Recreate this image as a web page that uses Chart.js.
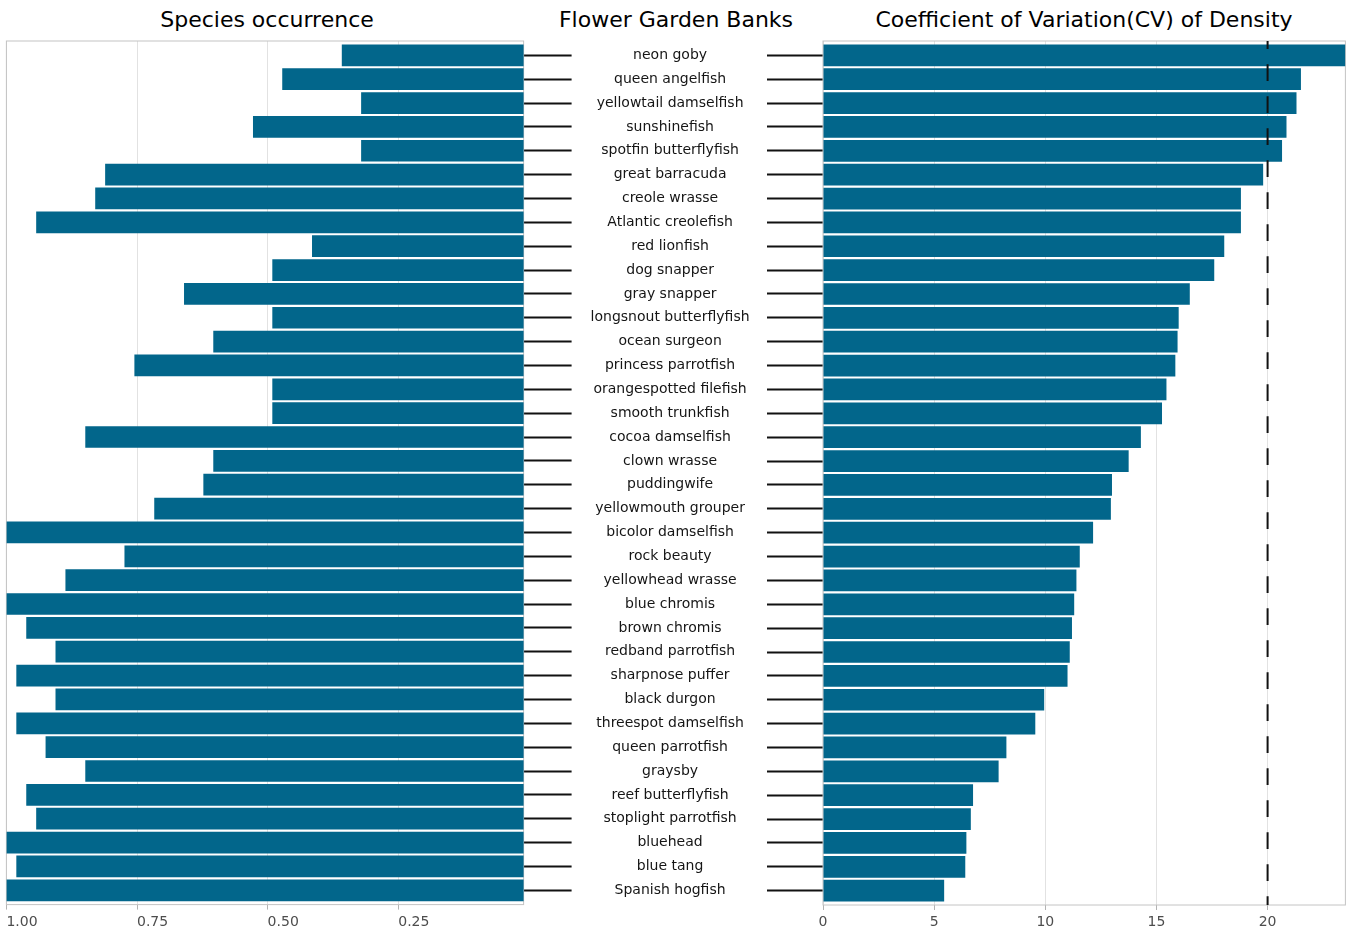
<!DOCTYPE html>
<html>
<head>
<meta charset="utf-8">
<title>Flower Garden Banks</title>
<script src="https://cdn.jsdelivr.net/npm/chart.js@4.4.1/dist/chart.umd.min.js"></script>
<style>
  html, body { margin: 0; padding: 0; background: #ffffff; }
  #page { position: relative; width: 1351px; height: 932px; overflow: hidden; font-family: 'DejaVu Sans', sans-serif; }
  .title { position: absolute; top: 7px; width: 500px; height: 26px; line-height: 26.4px; font-size: 22px; color: #000; text-align: center; white-space: nowrap; }
  .pane { position: absolute; top: 0; height: 932px; }
</style>
</head>
<body>
<div id="page">
  <div class="title" style="left:17px">Species occurrence</div>
  <div class="title" style="left:426px">Flower Garden Banks</div>
  <div class="title" style="left:834px">Coefficient of Variation(CV) of Density</div>
  <div class="pane" style="left:0;width:767px"><canvas id="occurrenceChart"></canvas></div>
  <div class="pane" style="left:767px;width:584px"><canvas id="cvChart"></canvas></div>
</div>
<script>
// Species, top to bottom
const species = [
  'neon goby', 'queen angelfish', 'yellowtail damselfish', 'sunshinefish',
  'spotfin butterflyfish', 'great barracuda', 'creole wrasse', 'Atlantic creolefish',
  'red lionfish', 'dog snapper', 'gray snapper', 'longsnout butterflyfish',
  'ocean surgeon', 'princess parrotfish', 'orangespotted filefish', 'smooth trunkfish',
  'cocoa damselfish', 'clown wrasse', 'puddingwife', 'yellowmouth grouper',
  'bicolor damselfish', 'rock beauty', 'yellowhead wrasse', 'blue chromis',
  'brown chromis', 'redband parrotfish', 'sharpnose puffer', 'black durgon',
  'threespot damselfish', 'queen parrotfish', 'graysby', 'reef butterflyfish',
  'stoplight parrotfish', 'bluehead', 'blue tang', 'Spanish hogfish'
];

// Share of surveys in which each species was recorded
const occurrence = [
  0.358, 0.472, 0.321, 0.528, 0.321, 0.811, 0.830, 0.943,
  0.415, 0.491, 0.660, 0.491, 0.604, 0.755, 0.491, 0.491,
  0.849, 0.604, 0.623, 0.717, 1.000, 0.774, 0.887, 1.000,
  0.962, 0.906, 0.981, 0.906, 0.981, 0.925, 0.849, 0.962,
  0.943, 1.000, 0.981, 1.000
];

// Coefficient of variation of density for each species
const cvDensity = [
  23.5, 21.5, 21.3, 20.85, 20.65, 19.8, 18.8, 18.8,
  18.05, 17.6, 16.5, 16.0, 15.95, 15.85, 15.45, 15.25,
  14.3, 13.75, 13.0, 12.95, 12.15, 11.55, 11.4, 11.3,
  11.2, 11.1, 11.0, 9.95, 9.55, 8.25, 7.9, 6.75,
  6.65, 6.45, 6.4, 5.45
];

// Axis ticks and ranges
const occurrenceTicks = [1.00, 0.75, 0.50, 0.25];
const occurrenceRange = [0.01, 1.00];
const cvTicks = [0, 5, 10, 15, 20];
const cvRange = [0, 23.5];
const cvThreshold = 20;

const BAR = '#02668b';
const GRID = '#e2e2e2';
const FRAME = '#c4c4c4';
const AXIS_TEXT = '#4d4d4d';
const LABEL_TEXT = '#151515';

Chart.defaults.font.family = "'DejaVu Sans', sans-serif";
Chart.defaults.animation = false;

// Light grey rectangle around each panel
const panelFrame = {
  id: 'panelFrame',
  beforeDatasetsDraw(chart, args, opts) {
    const { ctx, chartArea: a } = chart;
    ctx.save();
    ctx.strokeStyle = opts.color || FRAME;
    ctx.lineWidth = 1;
    ctx.strokeRect(a.left, a.top, a.right - a.left, a.bottom - a.top);
    ctx.restore();
  }
};

// Dashed vertical reference line on the CV panel
const thresholdLine = {
  id: 'thresholdLine',
  afterDatasetsDraw(chart, args, opts) {
    if (opts.value === undefined) return;
    const { ctx, chartArea: a } = chart;
    const x = chart.scales.x.getPixelForValue(opts.value);
    ctx.save();
    ctx.strokeStyle = '#111';
    ctx.lineWidth = 2;
    ctx.setLineDash([16.7, 15.3]);
    ctx.lineDashOffset = 8.7;
    ctx.beginPath();
    ctx.moveTo(x, a.top);
    ctx.lineTo(x, a.bottom);
    ctx.stroke();
    ctx.restore();
  }
};

// One tick per species row on the shared vertical axis
const rowTicks = (scale) => { scale.ticks = species.map((_, i) => ({ value: i })); };
const rowAxis = {
  type: 'linear',
  offset: false,
  min: -0.6,
  max: species.length - 0.4,
  reverse: true,
  afterBuildTicks: rowTicks,
  border: { display: false }
};

const barDataset = (values) => ({
  data: values.map((v, i) => ({ x: v, y: i })),
  backgroundColor: BAR,
  borderWidth: 0,
  barPercentage: 0.91,
  categoryPercentage: 1
});

const xAxisBase = {
  type: 'linear',
  afterFit: (s) => { s.height = 27; },
  border: { display: false },
  grid: { color: GRID, lineWidth: 1, tickColor: '#b3b3b3', tickLength: 5 },
  ticks: { padding: 4, color: AXIS_TEXT, font: { size: 14 } }
};

new Chart(document.getElementById('occurrenceChart'), {
  type: 'bar',
  data: { datasets: [barDataset(occurrence)] },
  options: {
    indexAxis: 'y',
    responsive: true,
    maintainAspectRatio: false,
    layout: { padding: { left: 6.4, top: 41, right: 0, bottom: 0 } },
    plugins: { legend: { display: false }, tooltip: { enabled: false }, panelFrame: { color: FRAME } },
    scales: {
      x: {
        ...xAxisBase,
        reverse: true,
        min: occurrenceRange[0],
        max: occurrenceRange[1],
        afterBuildTicks: (s) => { s.ticks = occurrenceTicks.map((v) => ({ value: v })); },
        ticks: { ...xAxisBase.ticks, align: 'start', callback: (v) => Number(v).toFixed(2) }
      },
      y: {
        ...rowAxis,
        position: 'right',
        afterFit: (s) => { s.width = 243.4; },
        grid: { offset: false, drawOnChartArea: false, tickLength: 48, tickColor: '#111', tickWidth: 2 },
        ticks: { autoSkip: false, crossAlign: 'center', padding: 19, color: LABEL_TEXT, font: { size: 14 },
                 callback: (v) => species[v] }
      }
    }
  },
  plugins: [panelFrame]
});

new Chart(document.getElementById('cvChart'), {
  type: 'bar',
  data: { datasets: [barDataset(cvDensity)] },
  options: {
    indexAxis: 'y',
    responsive: true,
    maintainAspectRatio: false,
    layout: { padding: { left: 0, top: 41, right: 5.6, bottom: 0 } },
    plugins: {
      legend: { display: false }, tooltip: { enabled: false },
      panelFrame: { color: FRAME },
      thresholdLine: { value: cvThreshold }
    },
    scales: {
      x: {
        ...xAxisBase,
        min: cvRange[0],
        max: cvRange[1],
        afterBuildTicks: (s) => { s.ticks = cvTicks.map((v) => ({ value: v })); },
        ticks: { ...xAxisBase.ticks, callback: (v) => String(v) }
      },
      y: {
        ...rowAxis,
        position: 'left',
        afterFit: (s) => { s.width = 56; },
        grid: { offset: false, drawOnChartArea: false, tickLength: 56, tickColor: '#111', tickWidth: 2 },
        ticks: { display: false, autoSkip: false }
      }
    }
  },
  plugins: [panelFrame, thresholdLine]
});
</script>
</body>
</html>
